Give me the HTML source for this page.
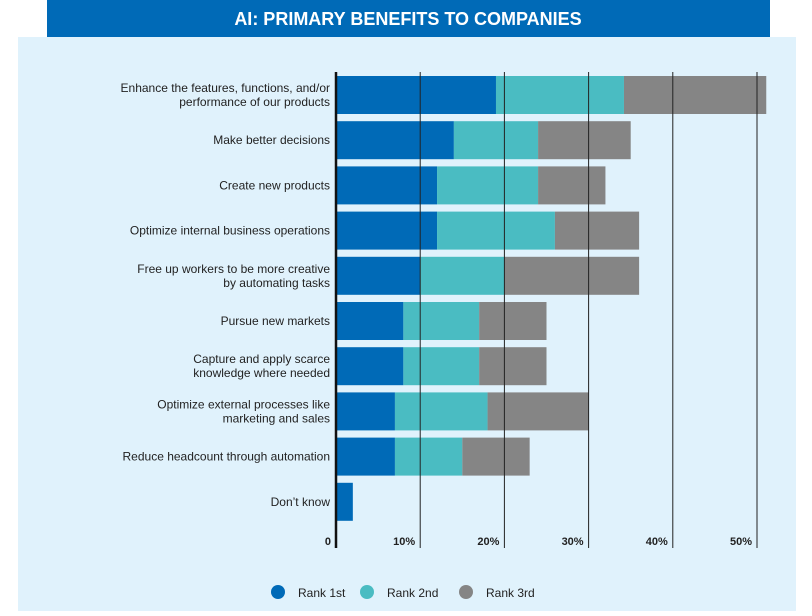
<!DOCTYPE html>
<html><head><meta charset="utf-8"><style>
body{margin:0;width:812px;height:611px;background:#fff;font-family:"Liberation Sans",sans-serif;overflow:hidden}
</style></head><body>
<svg width="812" height="611">
<rect x="47" y="0" width="723" height="37" fill="#006ab7"/>
<text x="408" y="25" text-anchor="middle" fill="#fff" font-size="18" font-weight="bold">AI: PRIMARY BENEFITS TO COMPANIES</text>
<rect x="18" y="37" width="778" height="574" fill="#e0f2fc"/>
<g id="plot"></g>
</svg>
<script>
const categories=[["Enhance the features, functions, and/or","performance of our products"],["Make better decisions"],["Create new products"],["Optimize internal business operations"],["Free up workers to be more creative","by automating tasks"],["Pursue new markets"],["Capture and apply scarce","knowledge where needed"],["Optimize external processes like","marketing and sales"],["Reduce headcount through automation"],["Don’t know"]];
const rank1=[19,14,12,12,10,8,8,7,7,2];
const rank2=[15.2,10,12,14,10,9,9,11,8,0];
const rank3=[16.9,11,8,10,16,8,8,12,8,0];
const ticks=[0,10,20,30,40,50];
const tickLabels=["0","10%","20%","30%","40%","50%"];
const seriesNames=["Rank 1st","Rank 2nd","Rank 3rd"];
const colors=["#006ab7","#4abcc2","#858585"];
const NS="http://www.w3.org/2000/svg";
const g=document.getElementById("plot");
const x=v=>336+v*8.42;
const y=i=>95+i*45.2;
function mk(t,a){const e=document.createElementNS(NS,t);for(const k in a)e.setAttribute(k,a[k]);g.appendChild(e);return e;}
[rank1,rank2,rank3].forEach((s,si)=>{s.forEach((v,i)=>{if(!v)return;
let start=0;for(let k=0;k<si;k++)start+=[rank1,rank2,rank3][k][i];
const r=mk("rect",{x:x(start),y:y(i)-19,width:x(start+v)-x(start),height:38,fill:colors[si]});

});});
ticks.forEach((t,i)=>{
if(i>0){const l=mk("line",{x1:x(t),x2:x(t),y1:72,y2:548,stroke:"#222","stroke-width":1});

}
const tx=mk("text",{x:x(t)-(i?5:5),y:545,"text-anchor":"end","font-size":"11","font-weight":"bold",fill:"#222"});
tx.textContent=tickLabels[i];

});
const ax=mk("line",{x1:336,x2:336,y1:72,y2:548,stroke:"#111","stroke-width":2.5});


categories.forEach((c,i)=>{c.forEach((ln,j)=>{
const t=mk("text",{x:330,y:y(i)+4+(c.length>1?(j?7:-7):0),"text-anchor":"end","font-size":"12",fill:"#222"});
t.textContent=ln;

});});
const lx=[278,367,466];
seriesNames.forEach((n,i)=>{
const c=mk("circle",{cx:lx[i],cy:592,r:7,fill:colors[i]});


const t=mk("text",{x:lx[i]+20,y:597,"font-size":"12",fill:"#222"});
t.textContent=n;

});
</script>
</body></html>
